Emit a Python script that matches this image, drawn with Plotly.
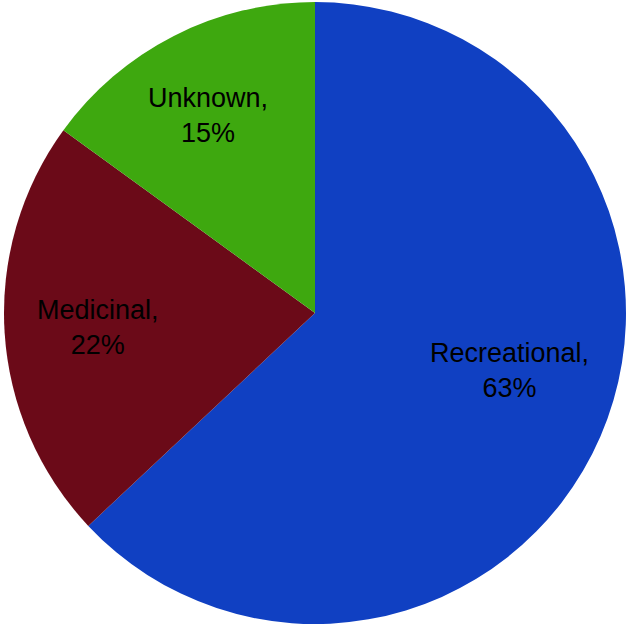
import plotly.graph_objects as go

labels = ["Recreational", "Medicinal", "Unknown"]
values = [63, 22, 15]
colors = ["#1040C2", "#6B0A18", "#3EA80F"]

# label anchor positions (paper coords of the plot area)
label_x = [0.812, 0.1505, 0.328]
label_y = [0.407, 0.476, 0.818]

fig = go.Figure(go.Pie(
    labels=labels,
    values=values,
    sort=False,
    direction="clockwise",
    rotation=0,
    marker=dict(colors=colors, line=dict(width=0)),
    textinfo="none",
    showlegend=False,
    hoverinfo="label+percent",
))

total = sum(values)
for lab, v, x, y in zip(labels, values, label_x, label_y):
    fig.add_annotation(
        x=x, y=y, xref="paper", yref="paper",
        text=f"{lab},<br>{round(100 * v / total)}%",
        showarrow=False, xanchor="center", yanchor="middle", align="center",
        font=dict(family="Liberation Sans, Arial, sans-serif", size=27, color="black"),
    )

fig.update_layout(
    width=630, height=629,
    margin=dict(l=4, r=4, t=2, b=5),
    paper_bgcolor="white",
    plot_bgcolor="white",
)
fig.write_html("out.html", config={"displayModeBar": False},
               post_script="document.body.style.margin='0';")
